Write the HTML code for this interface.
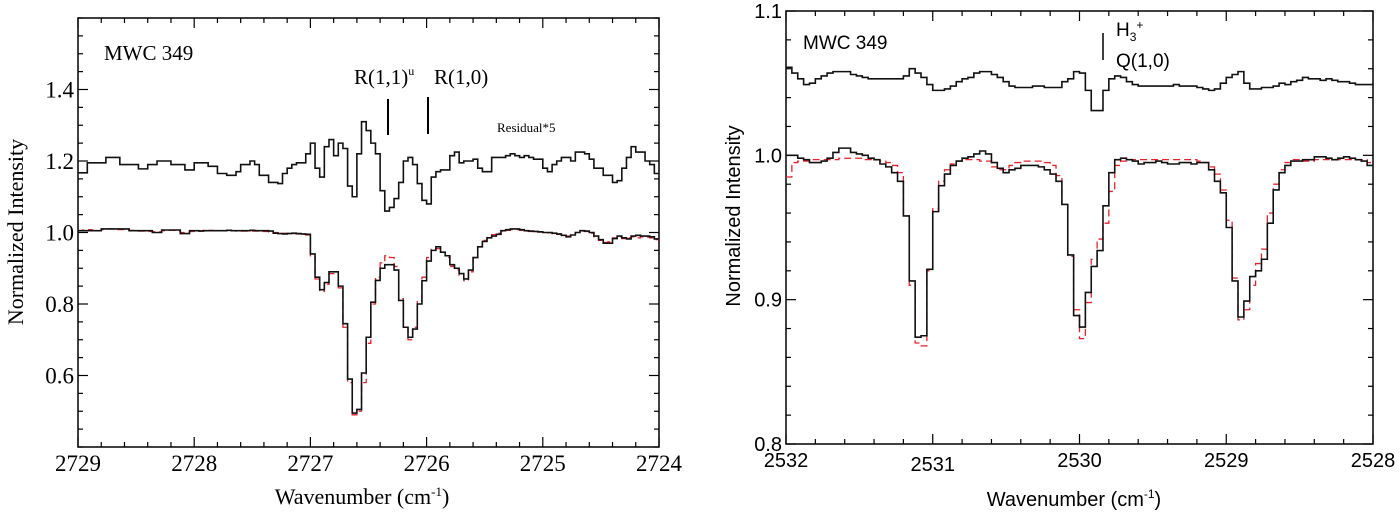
<!DOCTYPE html>
<html><head><meta charset="utf-8">
<style>
html,body{margin:0;padding:0;background:#fff;}
svg{display:block;}
</style></head>
<body>
<svg id="chart" width="1400" height="514" viewBox="0 0 1400 514" xmlns="http://www.w3.org/2000/svg">
<rect x="0" y="0" width="1400" height="514" fill="#fff"/>
<g id="left"></g>
<g id="right"></g>
<!-- left texts -->
<text font-family="Liberation Serif, serif" x="104" y="60" font-size="21">MWC 349</text>
<text font-family="Liberation Serif, serif" x="354" y="84" font-size="21">R(1,1)<tspan font-size="12" dy="-9">u</tspan></text>
<text font-family="Liberation Serif, serif" x="434" y="84" font-size="21" dy="0">R(1,0)</text>
<line x1="388" y1="99" x2="388" y2="135" stroke="#000" stroke-width="2"/>
<line x1="428" y1="97" x2="428" y2="134" stroke="#000" stroke-width="2"/>
<text font-family="Liberation Serif, serif" x="497" y="132" font-size="13">Residual*5</text>
<text font-family="Liberation Serif, serif" x="362" y="504" font-size="22" text-anchor="middle">Wavenumber (cm<tspan font-size="13" dy="-8">-1</tspan><tspan dy="8">)</tspan></text>
<text font-family="Liberation Serif, serif" transform="translate(23,232) rotate(-90)" font-size="22" text-anchor="middle">Normalized Intensity</text>
<!-- right texts -->
<text font-family="Liberation Sans, sans-serif" x="803" y="49" font-size="19">MWC 349</text>
<line x1="1103" y1="33" x2="1103" y2="60" stroke="#000" stroke-width="1.5"/>
<text font-family="Liberation Sans, sans-serif" x="1116" y="36" font-size="19">H<tspan font-size="12" dy="5">3</tspan><tspan font-size="12" dy="-12">+</tspan></text>
<text font-family="Liberation Sans, sans-serif" x="1116" y="67" font-size="19">Q(1,0)</text>
<text font-family="Liberation Sans, sans-serif" x="1074" y="506" font-size="20" text-anchor="middle">Wavenumber (cm<tspan font-size="12" dy="-8">-1</tspan><tspan dy="8">)</tspan></text>
<text font-family="Liberation Sans, sans-serif" transform="translate(740,216) rotate(-90)" font-size="20" text-anchor="middle">Normalized Intensity</text>
</svg>
<script>
// ---------- LEFT PANEL DATA ----------
const leftXTicks = [2729, 2728, 2727, 2726, 2725, 2724];
const leftYTicks = [0.6, 0.8, 1.0, 1.2, 1.4];
const leftYTickLabels = ["0.6", "0.8", "1.0", "1.2", "1.4"];
const leftStart = 2729, leftEnd = 2724;
const leftObserved = [
1.005,1.005,1.005,1.005,1.005,1.01,1.01,1.01,1.01,1.01,
1.01,1.005,1.005,1.005,1.005,1.005,1.0,1.0,1.007,1.007,
1.007,1.007,0.997,0.997,1.005,1.005,1.004,1.005,1.005,1.005,
1.005,1.005,1.006,1.005,1.005,1.005,1.005,1.006,1.005,1.005,
1.005,1.004,0.998,0.997,0.996,0.997,0.998,0.997,0.996,0.995,
0.94,0.875,0.84,0.86,0.89,0.89,0.85,
0.745,0.59,0.495,0.505,0.607,0.707,0.805,0.866,0.90,0.91,
0.91,0.895,0.81,0.735,0.707,0.73,0.80,0.865,0.92,0.95,
0.96,0.945,0.935,0.91,0.90,0.885,0.87,0.895,0.93,0.96,
0.975,0.985,0.99,0.995,
1.005,1.008,1.01,1.01,1.008,
1.005,1.004,1.003,1.002,1.0,1.0,0.998,0.996,0.992,0.988,
0.993,1.0,1.005,1.004,1.0,0.99,0.98,0.97,0.97,0.983,
0.99,0.985,0.982,0.99,0.992,0.99,0.99,0.988,0.982
];
const leftModel = [
1.005,1.007,1.008,1.006,1.005,1.008,1.01,1.01,1.008,1.008,
1.007,1.006,1.005,1.004,1.004,1.003,1.002,1.002,1.005,1.006,
1.006,1.004,1.0,1.0,1.003,1.004,1.005,1.006,1.006,1.005,
1.005,1.005,1.005,1.005,1.004,1.004,1.004,1.004,1.004,1.003,
1.003,1.002,1.0,0.999,0.998,0.998,0.997,0.996,0.995,0.993,
0.935,0.87,0.835,0.855,0.885,0.885,0.845,
0.735,0.58,0.49,0.50,0.58,0.69,0.80,0.875,0.915,0.935,
0.93,0.905,0.815,0.735,0.70,0.735,0.81,0.875,0.93,0.955,
0.955,0.945,0.93,0.905,0.895,0.88,0.865,0.89,0.93,0.96,
0.978,0.988,0.994,0.998,
1.004,1.006,1.008,1.008,1.006,
1.004,1.003,1.002,1.001,1.0,0.999,0.997,0.995,0.991,0.99,
0.995,1.0,1.004,1.003,0.998,0.988,0.978,0.972,0.974,0.985,
0.988,0.983,0.985,0.988,0.985,0.988,0.987,0.985,0.98
];
const leftResidual = [
1.167,1.167,1.195,1.195,1.195,1.195,1.21,1.21,1.21,1.19,
1.19,1.19,1.19,1.178,1.178,1.19,1.19,1.2,1.2,1.2,
1.19,1.19,1.19,1.175,1.175,1.195,1.195,1.195,1.185,1.185,
1.165,1.165,1.16,1.16,1.17,1.19,1.19,1.2,1.19,1.16,
1.16,1.14,1.14,1.137,1.165,1.18,1.19,1.195,1.195,1.22,
1.25,1.18,1.155,1.24,1.26,1.215,1.25,1.235,1.13,1.10,
1.22,1.31,1.285,1.25,1.22,1.117,1.06,1.07,1.095,1.14,
1.20,1.21,1.19,1.137,1.09,1.08,1.155,1.17,1.175,1.175,
1.215,1.225,1.195,1.20,1.20,1.205,1.18,
1.17,1.17,1.21,1.21,1.21,1.215,1.22,1.215,1.21,1.215,
1.21,1.205,1.205,1.18,1.17,1.19,1.2,1.21,1.21,1.2,
1.225,1.225,1.22,1.205,1.18,1.18,1.16,1.16,1.14,1.145,
1.18,1.21,1.24,1.225,1.225,1.2,1.19,1.165
];

// ---------- RIGHT PANEL DATA ----------
const rightXTicks = [2532, 2531, 2530, 2529, 2528];
const rightYTicks = [0.8, 0.9, 1.0, 1.1];
const rightYTickLabels = ["0.8", "0.9", "1.0", "1.1"];
const rightStart = 2532, rightEnd = 2528;
const rightObserved = [
1.000,1.000,0.998,0.997,0.995,0.995,0.996,0.998,1.002,1.005,
1.005,1.002,1.001,1.000,0.998,0.997,0.994,0.992,0.988,0.982,
0.958,0.913,0.874,0.875,0.921,0.961,0.979,0.987,0.993,0.996,
0.998,0.999,1.001,1.003,1.001,0.995,0.991,0.988,0.990,0.991,
0.993,0.993,0.993,0.992,0.990,0.987,0.982,0.966,0.931,0.889,
0.881,
0.905,0.923,0.934,0.965,0.988,0.997,0.998,0.997,0.996,0.994,
0.995,0.995,0.996,0.995,0.994,0.994,0.995,0.995,0.994,0.995,
0.995,0.990,0.982,0.974,0.950,0.913,0.888,0.899,0.916,0.920,
0.928,0.953,0.976,0.988,0.993,0.996,0.996,0.997,0.997,0.999,
0.999,0.998,0.997,0.998,0.999,0.998,0.997,0.996,0.993
];
const rightModel = [
0.985,0.995,0.996,0.996,0.997,0.997,0.997,0.997,0.997,0.998,
0.998,0.998,0.998,0.997,0.997,0.997,0.996,0.995,0.993,0.988,
0.958,0.91,0.87,0.868,0.92,0.963,0.982,0.990,0.994,0.996,
0.997,0.997,0.997,0.996,0.996,0.992,0.990,0.990,0.993,0.995,
0.996,0.996,0.996,0.996,0.995,0.993,0.986,0.966,0.93,0.893,
0.873,
0.898,0.928,0.942,0.953,0.975,0.993,0.996,0.997,0.997,0.997,
0.997,0.997,0.997,0.997,0.997,0.997,0.997,0.997,0.997,0.996,
0.995,0.992,0.987,0.976,0.955,0.915,0.886,0.893,0.91,0.925,
0.935,0.96,0.98,0.990,0.995,0.997,0.997,0.996,0.996,0.997,
0.997,0.997,0.997,0.997,0.997,0.997,0.997,0.997,0.995
];
const rightResidual = [
1.061,1.057,1.053,1.049,1.050,1.053,1.055,1.057,1.058,1.058,
1.058,1.056,1.055,1.054,1.053,1.053,1.053,1.053,1.053,1.053,
1.055,1.060,1.057,1.054,1.049,1.045,1.045,1.046,1.048,1.051,
1.053,1.054,1.057,1.058,1.058,1.056,1.054,1.051,1.048,1.047,
1.047,1.047,1.048,1.048,1.047,1.047,1.047,1.051,1.053,1.058,
1.057,
1.045,1.031,1.031,1.045,1.053,1.055,1.054,1.051,1.049,1.048,
1.048,1.048,1.048,1.048,1.048,1.049,1.048,1.048,1.048,1.047,
1.046,1.045,1.046,1.050,1.054,1.056,1.058,1.050,1.046,1.046,
1.047,1.047,1.048,1.050,1.049,1.051,1.052,1.054,1.053,1.053,
1.052,1.053,1.052,1.051,1.051,1.050,1.049,1.049,1.049
];

const NS = "http://www.w3.org/2000/svg";
function mk(parent, tag, attrs) {
  const el = document.createElementNS(NS, tag);
  for (const k in attrs) el.setAttribute(k, attrs[k]);
  parent.appendChild(el);
  return el;
}

function drawPanel(g, cfg) {
  const xScale = w => cfg.x0 + (cfg.wStart - w) / (cfg.wStart - cfg.wEnd) * (cfg.x1 - cfg.x0);
  const yScale = v => cfg.yB - (v - cfg.vMin) / (cfg.vMax - cfg.vMin) * (cfg.yB - cfg.yT);

  const frame = mk(g, "rect", {x: cfg.x0, y: cfg.yT, width: cfg.x1 - cfg.x0, height: cfg.yB - cfg.yT, fill: "none", stroke: "#000", "stroke-width": 1.5});
  
  

  const nMinorX = Math.round((cfg.wStart - cfg.wEnd) / cfg.xMinor);
  for (let k = 0; k <= nMinorX; k++) {
    const w = cfg.wStart - k * cfg.xMinor;
    const major = Math.abs((w - cfg.wEnd) - Math.round(w - cfg.wEnd)) < 1e-6;
    const len = major ? 10 : 5;
    const x = xScale(w);
    const t1 = mk(g, "line", {x1: x, x2: x, y1: cfg.yB, y2: cfg.yB - len, stroke: "#000", "stroke-width": 1.2});
    
    
    const t2 = mk(g, "line", {x1: x, x2: x, y1: cfg.yT, y2: cfg.yT + len, stroke: "#000", "stroke-width": 1.2});
    
    
  }
  cfg.xTicks.forEach((w, idx) => {
    const t = mk(g, "text", {x: xScale(w), y: cfg.xLabelY + (cfg.xLabelDy ? cfg.xLabelDy[idx] : 0), "font-size": cfg.fs, "text-anchor": "middle", "font-family": cfg.font});
    t.textContent = String(w);
    
    
  });
  const nMinorY = Math.round((cfg.vMax - cfg.vMin) / cfg.yMinor);
  for (let k = 0; k <= nMinorY; k++) {
    const v = cfg.vMin + k * cfg.yMinor;
    const major = cfg.yTicks.some(t => Math.abs(t - v) < 1e-6);
    const len = major ? 10 : 5;
    const y = yScale(v);
    const t1 = mk(g, "line", {x1: cfg.x0, x2: cfg.x0 + len, y1: y, y2: y, stroke: "#000", "stroke-width": 1.2});
    
    
    const t2 = mk(g, "line", {x1: cfg.x1, x2: cfg.x1 - len, y1: y, y2: y, stroke: "#000", "stroke-width": 1.2});
    
    
  }
  cfg.yTicks.forEach((v, i) => {
    const t = mk(g, "text", {x: cfg.x0 - 4, y: yScale(v) + cfg.fs * 0.35, "font-size": cfg.fs, "text-anchor": "end", "font-family": cfg.font});
    t.textContent = cfg.yLabels[i];
    
    
  });

  function stepPath(vals) {
    const n = vals.length;
    const bw = (cfg.wStart - cfg.wEnd) / n;
    let d = "";
    for (let i = 0; i < n; i++) {
      const xa = xScale(cfg.wStart - i * bw), xb = xScale(cfg.wStart - (i + 1) * bw);
      const y = yScale(vals[i]);
      d += (i === 0 ? "M" : "L") + xa.toFixed(2) + " " + y.toFixed(2) + " L" + xb.toFixed(2) + " " + y.toFixed(2) + " ";
    }
    return d;
  }
  const model = mk(g, "path", {d: stepPath(cfg.model), fill: "none", stroke: "#e8202a", "stroke-width": 1.3, "stroke-dasharray": "7,4"});
  
  
  const obs = mk(g, "path", {d: stepPath(cfg.obs), fill: "none", stroke: "#111", "stroke-width": 1.6});
  
  
  const res = mk(g, "path", {d: stepPath(cfg.res), fill: "none", stroke: "#111", "stroke-width": 1.6});
  
  
}

drawPanel(document.getElementById("left"), {
  x0: 78, x1: 659, yT: 18, yB: 447, vMin: 0.4, vMax: 1.6,
  wStart: leftStart, wEnd: leftEnd, xMinor: 0.2, yMinor: 0.05,
  xTicks: leftXTicks, yTicks: leftYTicks, yLabels: leftYTickLabels,
  xLabelY: 471, fs: 23, font: "Liberation Serif, serif",
  obs: leftObserved, model: leftModel, res: leftResidual
});
drawPanel(document.getElementById("right"), {
  x0: 786, x1: 1373, yT: 11, yB: 444, vMin: 0.8, vMax: 1.1,
  wStart: rightStart, wEnd: rightEnd, xMinor: 0.2, yMinor: 0.02,
  xTicks: rightXTicks, yTicks: rightYTicks, yLabels: rightYTickLabels,
  xLabelY: 467, xLabelDy: [0, 4, 0, 0, 0], fs: 20, font: "Liberation Sans, sans-serif",
  obs: rightObserved, model: rightModel, res: rightResidual
});
</script>
</body></html>
